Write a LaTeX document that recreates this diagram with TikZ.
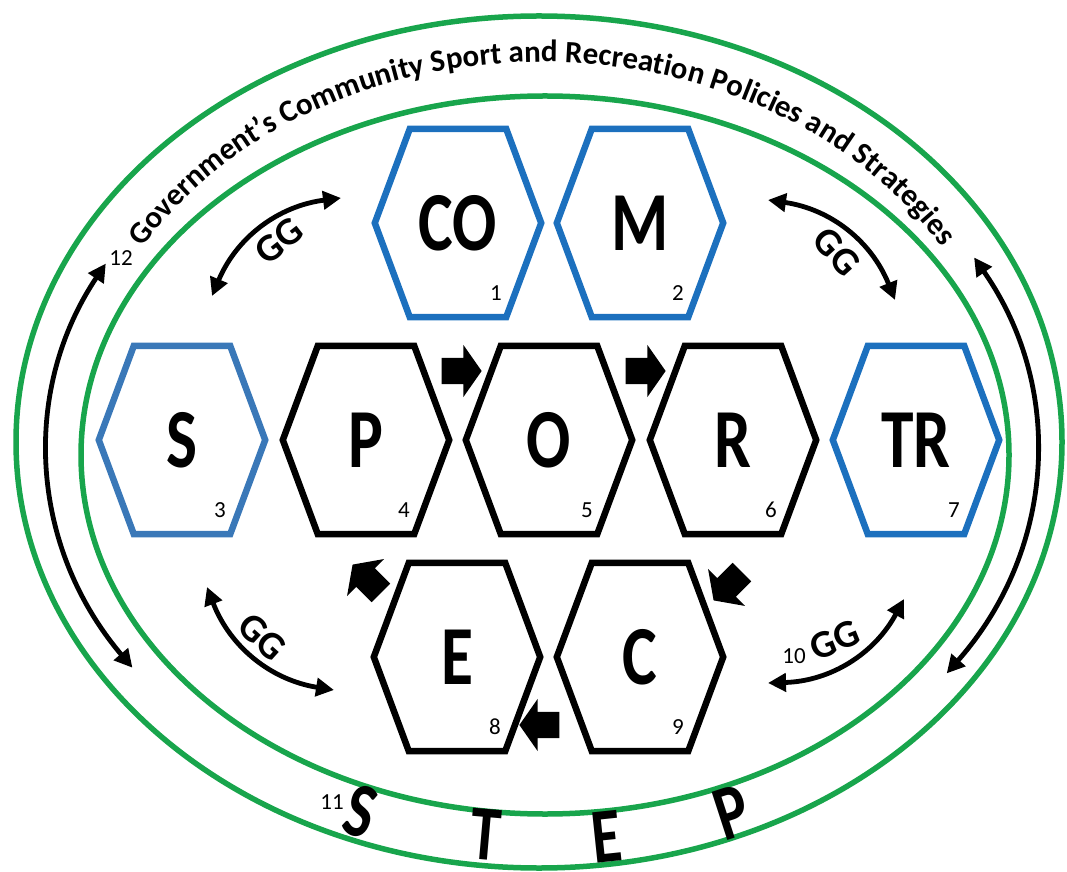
\documentclass[tikz,border=0pt]{standalone}
\usepackage{fontspec}
\setmainfont{Carlito}
\newfontfamily\hexfont[FakeStretch=0.78]{Carlito}
\usepackage{xcolor}
\usetikzlibrary{arrows.meta,positioning,shapes.arrows,decorations.text}

\definecolor{ringgreen}{RGB}{24,165,76}
\definecolor{hexblue}{RGB}{28,112,190}
\definecolor{hexsteel}{RGB}{58,120,184}

\tikzset{
    ring/.style={ringgreen, line width=5.5pt},
    hexbox/.style={minimum width=166pt, minimum height=188pt, inner sep=0pt,
        font=\hexfont\bfseries\fontsize{84}{84}\selectfont},
    hexline/.style={line width=6.5pt, line join=miter},
    hexnum/.style={inner sep=0pt, font=\fontsize{23}{23}\selectfont},
    flow/.style={single arrow, fill=black, inner xsep=0pt, inner ysep=13pt, minimum height=40pt,
        minimum width=52pt, single arrow head extend=13pt, single arrow tip angle=110},
    loopline/.style={line width=4.8pt, {Triangle[length=18pt,width=18pt]}-{Triangle[length=18pt,width=18pt]}},
    gg/.style={inner sep=0pt, font=\bfseries\fontsize{39}{39}\selectfont},
    steplet/.style={inner sep=0pt, font=\hexfont\bfseries\fontsize{78}{78}\selectfont},
}

\begin{document}
\begin{tikzpicture}[x=1pt, y=1pt]
        \useasboundingbox (0,0) rectangle (1067,871);

        % Rings
        \draw[ring] (539,429) ellipse [x radius=523, y radius=426];
        \draw[ring] (545,416) ellipse [x radius=464, y radius=359];

        % Ring caption
        \path[decorate, decoration={text along path, text align=center,
            text={|\bfseries\fontsize{31}{31}\selectfont|Government’s Community Sport and Recreation Policies and Strategies}}]
            ([shift={(150:468 and 386)}]542,423) arc [start angle=150, end angle=30, x radius=468, y radius=386];

        % STEP along the bottom
        \node[steplet, rotate=-17] (stepS) at (361,60) {S};
        \node[steplet, rotate=-5] (stepT) at (486,36) {T};
        \node[steplet, rotate=6] (stepE) at (607,34) {E};
        \node[steplet, rotate=18] (stepP) at (732,59) {P};

        % Side loops between the rings
        \coordinate (lt) at ([shift={(152:494 and 393)}]542,423);
        \coordinate (rt) at ([shift={(29:494 and 393)}]542,423);
        \draw[loopline] (lt) arc [start angle=152, end angle=214, x radius=494, y radius=393];
        \draw[loopline] (rt) arc [start angle=29, end angle=-35, x radius=494, y radius=393];

        % Hexagons
        \foreach \n/\x/\y/\t/\c/\k in {co/458/648/CO/hexblue/1, m/640/648/M/hexblue/2,
                s/182/431/S/hexsteel/3, p/366/431/P/black/4, o/549/431/O/black/5,
                r/733/431/R/black/6, tr/916/431/TR/hexblue/7,
                e/457/214/E/black/8, c/640/214/C/black/9} {
            \node[hexbox] (\n) at (\x,\y) {\t};
            \draw[hexline, \c] (\n.west) -- ([xshift=35pt]\n.north west) -- ([xshift=-35pt]\n.north east)
                -- (\n.east) -- ([xshift=-35pt]\n.south east) -- ([xshift=35pt]\n.south west) -- cycle;
            \node[hexnum] (num\n) at ([shift={(38,-70)}]\n.center) {\k};
        }

        % Process arrows
        \node[flow] (po) at (457,500) {};
        \node[flow] (or) at (641,500) {};
        \node[flow, rotate=-135] (rc) at (731,288) {};
        \node[flow, rotate=180] (ce) at (544,146) {};
        \node[flow, rotate=135] (ep) at (370,289) {};

        % GG links
        \coordinate (tl1) at (212,575);
        \coordinate (tl2) at (341,673);
        \coordinate (tr1) at (768,671);
        \coordinate (tr2) at (895,571);
        \coordinate (bl1) at (207,284);
        \coordinate (bl2) at (334,181);
        \coordinate (br1) at (768,188);
        \coordinate (br2) at (904,272);
        \draw[loopline] (tl1) to[bend left=30] (tl2);
        \draw[loopline] (tr1) to[bend left=30] (tr2);
        \draw[loopline] (bl1) to[bend right=30] (bl2);
        \draw[loopline] (br1) to[bend right=30] (br2);
        \node[gg, rotate=38] (ggtl) at (279,630) {GG};
        \node[gg, rotate=-48] (ggtr) at (837,619) {GG};
        \node[gg, rotate=-42] (ggbl) at (262,234) {GG};
        \node[gg, rotate=22] (ggbr) at (835,231) {GG};

        % Loose numbers
        \node[hexnum] (n10) at (794,215) {10};
        \node[hexnum] (n11) at (332,69) {11};
        \node[hexnum] (n12) at (121,613) {12};
\end{tikzpicture}
\end{document}
